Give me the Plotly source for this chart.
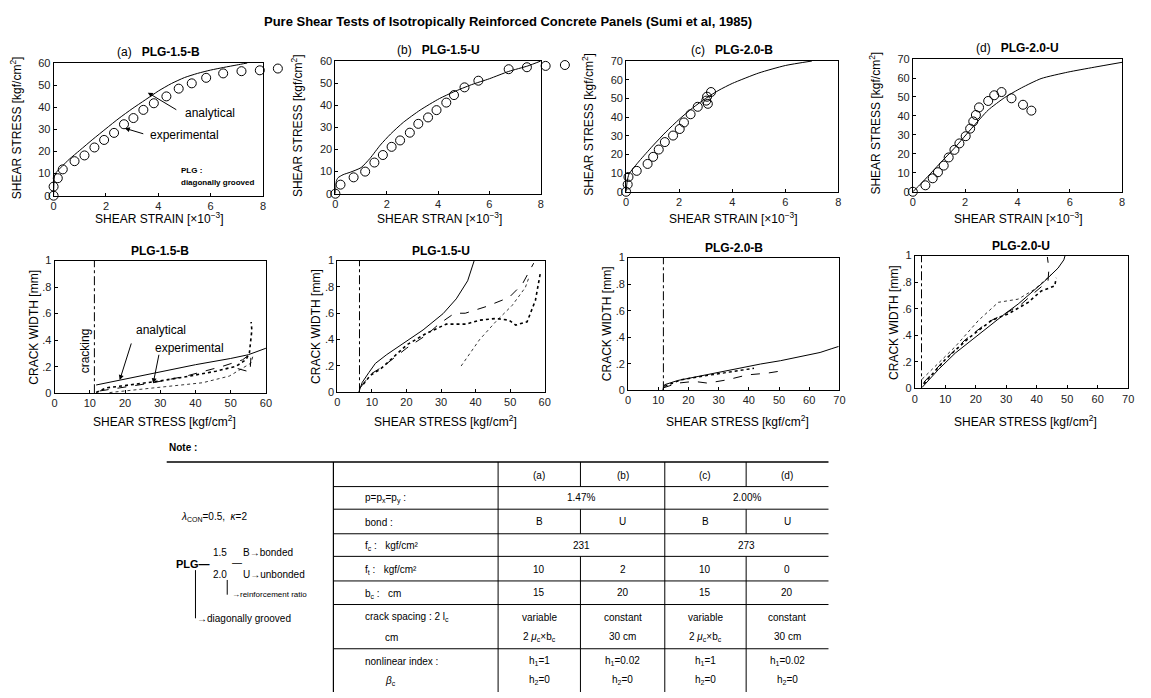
import plotly.graph_objects as go

W, H = 1151, 698
FONT = "Liberation Sans"

# ---------------- DATA ----------------
# Top row: shear stress (kgf/cm2) vs shear strain (x10^-3)
a_exp_x = [0, 0.0, 0.16, 0.35, 0.80, 1.18, 1.56, 1.93, 2.31, 2.69, 3.05, 3.43, 3.83, 4.31, 4.78, 5.28, 5.83, 6.48, 7.18, 7.88, 8.57]
a_exp_y = [0, 4.1, 7.9, 11.9, 15.6, 18.2, 21.8, 25.2, 28.4, 32.3, 35.1, 38.8, 41.8, 44.9, 48.4, 50.8, 53.3, 55.3, 56.3, 56.7, 57.5]
a_ana_x = [0, 0.03, 0.1, 0.3, 0.6, 1.0, 1.5, 2.0, 2.5, 3.0, 3.5, 4.0, 4.5, 5.0, 5.5, 6.0, 6.5, 7.0, 7.4]
a_ana_y = [0, 8.5, 10.5, 13.0, 16.5, 20.5, 25.5, 30.3, 35.0, 39.3, 43.3, 47.3, 50.7, 53.4, 55.3, 56.8, 58.0, 59.1, 60.0]

b_exp_x = [0, 0.2, 0.71, 1.16, 1.52, 1.85, 2.19, 2.52, 2.90, 3.23, 3.61, 3.94, 4.32, 4.62, 5.03, 5.57, 6.75, 7.46, 8.19, 8.94]
b_exp_y = [0, 4.1, 7.4, 10.0, 14.1, 17.5, 21.2, 24.1, 27.6, 31.6, 34.5, 37.8, 41.2, 44.6, 48.1, 51.1, 56.3, 57.2, 57.8, 58.2]
b_ana_x = [0, 0.03, 0.1, 0.3, 0.6, 1.0, 1.35, 1.75, 2.15, 2.65, 3.3, 4.05, 4.6, 5.3, 6.0, 6.75, 7.5, 8.0]
b_ana_y = [0, 5.5, 7.2, 8.6, 9.8, 11.8, 16.0, 22.0, 27.0, 32.3, 37.8, 43.0, 46.0, 49.3, 52.0, 55.3, 57.8, 60.0]

c_exp_x = [0, 0.06, 0.09, 0.40, 0.81, 1.02, 1.23, 1.46, 1.77, 2.02, 2.18, 2.43, 2.70, 3.02, 3.05, 3.08, 3.20]
c_exp_y = [0, 3.9, 7.9, 11.2, 14.9, 18.7, 22.6, 26.6, 30.1, 33.6, 37.1, 41.5, 45.5, 48.8, 50.9, 47.1, 53.4]
c_ana_x = [0, 0.04, 0.11, 0.5, 1.0, 1.5, 2.0, 2.5, 3.0, 3.5, 4.0, 5.0, 6.0, 7.0]
c_ana_y = [0, 5.5, 9.5, 16.5, 24.5, 32.0, 38.8, 44.8, 50.0, 54.4, 58.0, 63.6, 67.6, 70.0]

d_exp_x = [0, 0.48, 0.76, 0.96, 1.18, 1.37, 1.59, 1.78, 2.02, 2.19, 2.31, 2.41, 2.53, 2.88, 3.11, 3.39, 3.77, 4.21, 4.53]
d_exp_y = [0, 3.4, 7.1, 10.3, 13.8, 18.1, 22.1, 25.5, 29.3, 33.3, 37.1, 40.5, 44.5, 47.9, 50.9, 52.6, 49.3, 45.9, 42.8]
d_ana_x = [0, 0.35, 0.99, 1.62, 2.25, 2.88, 3.51, 4.15, 4.9, 5.92, 6.93, 8.0]
d_ana_y = [0, 4.8, 14.3, 23.5, 33.5, 43.1, 49.7, 54.8, 59.7, 63.1, 65.7, 68.3]

# Bottom row: crack width (mm) vs shear stress (kgf/cm2)
ba_crack = 11.3
ba_ana_x = [11.8, 20, 30, 40, 50, 55, 60]
ba_ana_y = [0.062, 0.107, 0.163, 0.215, 0.262, 0.29, 0.339]
ba_e1_x = [11.8, 14.6, 18.9, 25, 29.8, 38.3, 45.8, 51.5, 54.3, 55.3, 55.8, 56.0, 55.8]
ba_e1_y = [0.005, 0.04, 0.054, 0.074, 0.092, 0.129, 0.166, 0.203, 0.252, 0.302, 0.40, 0.475, 0.537]
ba_e2_x = [12.8, 20, 27.9, 37.3, 47.7, 53.4, 55.8, 55.5, 50.0]
ba_e2_y = [0.017, 0.045, 0.079, 0.129, 0.203, 0.252, 0.302, 0.16, 0.2]
ba_e3_x = [15.6, 27.9, 42, 49.6, 55.8, 56.4]
ba_e3_y = [0.005, 0.042, 0.079, 0.129, 0.228, 0.29]

bb_crack = 6.4
bb_ana_x = [6.2, 7.2, 9.1, 11, 14.3, 20.1, 24.8, 30.6, 34.4, 37.7, 39.6]
bb_ana_y = [0, 0.075, 0.149, 0.219, 0.286, 0.386, 0.473, 0.597, 0.709, 0.846, 1.0]
bb_e1_x = [6.7, 9.6, 13.4, 20.1, 25.8, 29.5, 33.9, 37.0, 43, 49.7, 53.5, 56.8]
bb_e1_y = [0.037, 0.137, 0.199, 0.336, 0.435, 0.52, 0.6, 0.6, 0.65, 0.72, 0.82, 0.98]
bb_e2_x = [7.5, 9.6, 12.4, 20.1, 25.8, 31.5, 37.2, 41.1, 45.8, 49.7, 51.6, 54.9, 57.3, 58.7]
bb_e2_y = [0.06, 0.13, 0.174, 0.36, 0.448, 0.517, 0.517, 0.547, 0.56, 0.547, 0.51, 0.535, 0.697, 0.9]
bb_e3_x = [35.8, 41.1, 45.8, 50.6, 54.4, 55.4]
bb_e3_y = [0.199, 0.398, 0.535, 0.66, 0.796, 0.87]

bc_crack = 11.7
bc_ana_x = [11.5, 12.1, 16.5, 24.1, 30.7, 37.3, 43.9, 50.5, 57.1, 63.6, 67.5, 69.7]
bc_ana_y = [0.0, 0.042, 0.074, 0.109, 0.141, 0.173, 0.198, 0.223, 0.252, 0.285, 0.314, 0.33]
bc_e1_x = [11.5, 16.5, 21.9, 26.3, 32.9, 39.5, 46.1, 51.6]
bc_e1_y = [0.017, 0.054, 0.067, 0.054, 0.079, 0.116, 0.129, 0.149]
bc_e2_x = [12.1, 17.6, 24.1, 30.7, 37.3, 41.7]
bc_e2_y = [0.03, 0.079, 0.104, 0.129, 0.153, 0.166]

bd_crack = 2.2
bd_ana_x = [2.4, 7.8, 13.3, 18.7, 24.1, 29.6, 33.9, 38.3, 42.6, 47.0, 48.9, 49.3]
bd_ana_y = [0.007, 0.143, 0.266, 0.365, 0.463, 0.562, 0.635, 0.722, 0.808, 0.906, 0.968, 1.0]
bd_e1_x = [2.4, 6.7, 13.3, 20.9, 27.4, 33.9, 39.3, 44.8]
bd_e1_y = [0.069, 0.167, 0.315, 0.512, 0.648, 0.672, 0.746, 0.857]
bd_e2_x = [2.9, 8.9, 16.5, 24.1, 29.6, 35, 39.3, 43.7, 44.0, 43.5]
bd_e2_y = [0.044, 0.192, 0.365, 0.5, 0.562, 0.635, 0.722, 0.808, 0.9, 0.99]
bd_e3_x = [2.9, 10, 17.6, 25.2, 30.7, 37.2, 41.5, 45.9, 46.4]
bd_e3_y = [0.032, 0.217, 0.377, 0.512, 0.562, 0.648, 0.734, 0.771, 0.833]

top_titles = ["(a)", "(b)", "(c)", "(d)"]
specimens = ["PLG-1.5-B", "PLG-1.5-U", "PLG-2.0-B", "PLG-2.0-U"]
top_xtitles = ["SHEAR STRAIN [×10<sup>−3</sup>]", "SHEAR STRAN [×10<sup>−3</sup>]",
               "SHEAR STRAIN [×10<sup>−3</sup>]", "SHEAR STRAIN [×10<sup>−3</sup>]"]
top_xmax = 8
top_ymax = [60, 60, 70, 70]
bot_xmax = [60, 60, 70, 70]
crack_ticks = [0, 0.2, 0.4, 0.6, 0.8, 1]
crack_ticktext = ["0", ".2", ".4", ".6", ".8", "1"]

# Table
tbl_cols = ["(a)", "(b)", "(c)", "(d)"]
tbl_labels = ["p=p<sub>x</sub>=p<sub>y</sub> :", "bond :", "f<sub>c</sub> :   kgf/cm²",
              "f<sub>t</sub> :   kgf/cm²", "b<sub>c</sub> :   cm"]
ratio_vals = ["1.47%", "2.00%"]
bond_vals = ["B", "U", "B", "U"]
fc_vals = ["231", "273"]
ft_vals = ["10", "2", "10", "0"]
bc_vals = ["15", "20", "15", "20"]
spacing_vals = [("variable", "2 <i>μ</i><sub>c</sub>×b<sub>c</sub>"), ("constant", "30 cm"),
                ("variable", "2 <i>μ</i><sub>c</sub>×b<sub>c</sub>"), ("constant", "30 cm")]
index_vals = [("h<sub>1</sub>=1", "h<sub>2</sub>=0"), ("h<sub>1</sub>=0.02", "h<sub>2</sub>=0"),
              ("h<sub>1</sub>=1", "h<sub>2</sub>=0"), ("h<sub>1</sub>=0.02", "h<sub>2</sub>=0")]

# ---------------- LAYOUT GEOMETRY (px) ----------------
top_box = [(51, 262, 58, 193), (335, 542, 56, 191), (628, 842, 56, 189), (917, 1128, 54, 189)]
bot_box = [(52, 265, 259, 394), (337, 546, 259, 393), (630, 843, 256, 391), (919, 1134, 254, 389)]

def px(x):
    return x / W

def py(y):
    return 1 - y / H

fig = go.Figure()
layout = dict(width=W, height=H, margin=dict(l=0, r=0, t=0, b=0),
              paper_bgcolor="white", plot_bgcolor="rgba(0,0,0,0)", showlegend=False,
              font=dict(family=FONT, color="black"))
annotations = []
shapes = []

def axis_common(size):
    return dict(showline=True, mirror=True, linecolor="black", linewidth=1,
                ticks="inside", ticklen=3, tickcolor="black", showgrid=False,
                zeroline=False, fixedrange=True, tickfont=dict(family=FONT, size=size, color="#222"))

def ann(x, y, text, size=12, xanchor="center", yanchor="middle", textangle=0, **kw):
    annotations.append(dict(x=px(x), y=py(y), xref="paper", yref="paper", text=text,
                            showarrow=False, xanchor=xanchor, yanchor=yanchor, textangle=textangle,
                            font=dict(family=FONT, size=size, color="black"), **kw))

top_data = [(a_exp_x, a_exp_y, a_ana_x, a_ana_y), (b_exp_x, b_exp_y, b_ana_x, b_ana_y),
            (c_exp_x, c_exp_y, c_ana_x, c_ana_y), (d_exp_x, d_exp_y, d_ana_x, d_ana_y)]

extra_axis = 9
for i, (l, r, t, b) in enumerate(top_box):
    n = i + 1
    xa, ya = f"x{n}", f"y{n}"
    ex, ey, axx, axy = top_data[i]
    fig.add_trace(go.Scatter(x=axx, y=axy, mode="lines", xaxis=xa, yaxis=ya,
                             line=dict(color="black", width=1, shape="spline", smoothing=0.6)))
    xk = "xaxis" if n == 1 else f"xaxis{n}"
    yk = "yaxis" if n == 1 else f"yaxis{n}"
    layout[xk] = dict(domain=[px(l), px(r)], range=[0, top_xmax], tickvals=[0, 2, 4, 6, 8],
                      anchor=ya, **axis_common(11))
    layout[yk] = dict(domain=[py(b), py(t)], range=[0, top_ymax[i]],
                      tickvals=list(range(0, top_ymax[i] + 1, 10)), anchor=xa, **axis_common(11))
    # experimental circles: if they run past the frame, use an invisible wider axis with same scale
    xmax_pts = max(ex)
    if xmax_pts > top_xmax:
        ext = xmax_pts + 0.4
        xe = f"x{extra_axis}"
        layout[f"xaxis{extra_axis}"] = dict(domain=[px(l), px(l + (r - l) * ext / top_xmax)],
                                           range=[0, ext], visible=False, anchor=ya, fixedrange=True)
        fig.add_trace(go.Scatter(x=ex, y=ey, mode="markers", xaxis=xe, yaxis=ya, cliponaxis=False,
                                 marker=dict(symbol="circle-open", size=9, color="black", line=dict(width=1))))
        extra_axis += 1
    else:
        fig.add_trace(go.Scatter(x=ex, y=ey, mode="markers", xaxis=xa, yaxis=ya, cliponaxis=False,
                                 marker=dict(symbol="circle-open", size=9, color="black", line=dict(width=1))))
    cx = (l + r) / 2
    ann(cx, t - 11, f"{top_titles[i]}   <b>{specimens[i]}</b>", size=12)
    ann(cx + 1, 216, top_xtitles[i], size=12)
    ann(l - 38, (t + b) / 2 - 2, "SHEAR STRESS [kgf/cm<sup>2</sup>]", size=12, textangle=-90)

bot_data = [
    (ba_crack, ba_ana_x, ba_ana_y, [(ba_e1_x, ba_e1_y, "dot", 1.6), (ba_e2_x, ba_e2_y, "dash", 1), (ba_e3_x, ba_e3_y, "dot", 0.8)]),
    (bb_crack, bb_ana_x, bb_ana_y, [(bb_e1_x, bb_e1_y, "dash", 1), (bb_e2_x, bb_e2_y, "dot", 1.6), (bb_e3_x, bb_e3_y, "dot", 0.8)]),
    (bc_crack, bc_ana_x, bc_ana_y, [(bc_e1_x, bc_e1_y, "dash", 1), (bc_e2_x, bc_e2_y, "dot", 1.4)]),
    (bd_crack, bd_ana_x, bd_ana_y, [(bd_e1_x, bd_e1_y, "dot", 0.8), (bd_e2_x, bd_e2_y, "dash", 1), (bd_e3_x, bd_e3_y, "dot", 1.6)]),
]

for i, (l, r, t, b) in enumerate(bot_box):
    n = i + 5
    xa, ya = f"x{n}", f"y{n}"
    crack, anx, any_, exps = bot_data[i]
    fig.add_trace(go.Scatter(x=[crack, crack], y=[0, 1], mode="lines", xaxis=xa, yaxis=ya,
                             line=dict(color="black", width=1, dash="dashdot")))
    fig.add_trace(go.Scatter(x=anx, y=any_, mode="lines", xaxis=xa, yaxis=ya,
                             line=dict(color="black", width=1)))
    for ex, ey, dash, wd in exps:
        fig.add_trace(go.Scatter(x=ex, y=ey, mode="lines", xaxis=xa, yaxis=ya,
                                 line=dict(color="black", width=wd, dash=dash)))
    layout[f"xaxis{n}"] = dict(domain=[px(l), px(r)], range=[0, bot_xmax[i]],
                               tickvals=list(range(0, bot_xmax[i] + 1, 10)), anchor=ya, **axis_common(11))
    layout[f"yaxis{n}"] = dict(domain=[py(b), py(t)], range=[0, 1], tickvals=crack_ticks,
                               ticktext=crack_ticktext, anchor=xa, **axis_common(11))
    cx = (l + r) / 2
    ann(cx, t - 10, f"<b>{specimens[i]}</b>", size=12)
    ann(cx + 4, 422, "SHEAR STRESS [kgf/cm<sup>2</sup>]", size=12)
    ann(l - 21, (t + b) / 2, "CRACK WIDTH [mm]", size=12, textangle=-90)

# in-plot labels
ann(209, 109, "analytical", size=12)
ann(183, 131, "experimental", size=12)
ann(177, 167, "<b>PLG :</b>", size=8, xanchor="left")
ann(177, 180, "<b>diagonally grooved</b>", size=8, xanchor="left")
annotations.append(dict(x=3.6, y=46.6, xref="x", yref="y", ax=30, ay=18, text="", showarrow=True,
                        arrowhead=2, arrowsize=1, arrowwidth=1, arrowcolor="black"))
annotations.append(dict(x=2.72, y=30.5, xref="x", yref="y", ax=20, ay=6, text="", showarrow=True,
                        arrowhead=2, arrowsize=1, arrowwidth=1, arrowcolor="black"))

ann(83, 351, "cracking", size=12, textangle=-90)
ann(159, 330, "analytical", size=12)
ann(188, 348, "experimental", size=12)
annotations.append(dict(x=18.5, y=0.1, xref="x5", yref="y5", ax=12, ay=-38, text="", showarrow=True,
                        arrowhead=2, arrowsize=1, arrowwidth=1, arrowcolor="black"))
annotations.append(dict(x=28.0, y=0.075, xref="x5", yref="y5", ax=6, ay=-30, text="", showarrow=True,
                        arrowhead=2, arrowsize=1, arrowwidth=1, arrowcolor="black"))

# main title
ann(509, 16, "<b>Pure Shear Tests of Isotropically Reinforced Concrete Panels (Sumi et al, 1985)</b>", size=13)

# ---------------- NOTE + TABLE ----------------
ann(165, 449, "<b>Note :</b>", size=10, xanchor="left")

def hline(x0, x1, y, w=1):
    shapes.append(dict(type="line", xref="paper", yref="paper", x0=px(x0), x1=px(x1), y0=py(y), y1=py(y),
                       line=dict(color="black", width=w)))

def vline(x, y0, y1, w=1):
    shapes.append(dict(type="line", xref="paper", yref="paper", x0=px(x), x1=px(x), y0=py(y0), y1=py(y1),
                       line=dict(color="black", width=w)))

row_y = [464, 489, 512, 537, 560, 585, 609, 654, 698]
col_x = [333, 499, 582, 667, 749, 832]
hline(165, 832, row_y[0], 1.5)
for y in row_y[1:-1]:
    hline(333, 832, y)
vline(333, 464, 698, 1.2)
vline(499, 464, 698)
vline(667, 464, 698)
for k in range(len(row_y) - 1):
    if k in (1, 3):
        continue
    vline(582, row_y[k], row_y[k + 1])
    vline(749, row_y[k], row_y[k + 1])

def cell_center(k, c):
    return (col_x[c] + col_x[c + 1]) / 2, (row_y[k] + row_y[k + 1]) / 2

for c, lab in enumerate(tbl_cols):
    x, y = cell_center(0, c + 1)
    ann(x, y + 1, lab, size=10)

for k, lab in enumerate(tbl_labels):
    ann(363, (row_y[k + 1] + row_y[k + 2]) / 2 + 1, lab, size=10, xanchor="left")
ann(363, 622, "crack spacing : 2 l<sub>c</sub>", size=10, xanchor="left")
ann(383, 643, "cm", size=10, xanchor="left")
ann(363, 667, "nonlinear index :", size=10, xanchor="left")
ann(383, 687, "<i>β</i><sub>c</sub>", size=10, xanchor="left")

for j, v in enumerate(ratio_vals):
    ann((col_x[1 + 2 * j] + col_x[3 + 2 * j]) / 2, 500, v, size=10)
    ann((col_x[1 + 2 * j] + col_x[3 + 2 * j]) / 2, 549, fc_vals[j], size=10)
for c in range(4):
    x = (col_x[c + 1] + col_x[c + 2]) / 2
    ann(x, 525, bond_vals[c], size=10)
    ann(x, 573, ft_vals[c], size=10)
    ann(x, 597, bc_vals[c], size=10)
    ann(x, 622, spacing_vals[c][0], size=10)
    ann(x, 642, spacing_vals[c][1], size=10)
    ann(x, 666, index_vals[c][0], size=10)
    ann(x, 686, index_vals[c][1], size=10)

# left notes
ann(177, 520, "<i>λ</i><sub>CON</sub>=0.5,  <i>κ</i>=2", size=10, xanchor="left")
ann(172, 568, "<b>PLG—</b>", size=11, xanchor="left")
ann(219, 556, "1.5", size=10)
ann(219, 578, "2.0", size=10)
ann(236, 566, "—", size=10)
ann(240, 556, "B→bonded", size=10, xanchor="left")
ann(240, 578, "U→unbonded", size=10, xanchor="left")
ann(229, 599, "→reinforcement ratio", size=8, xanchor="left")
ann(194, 623, "→diagonally grooved", size=10, xanchor="left")
vline(226, 584, 599)
vline(194, 574, 623)

layout["annotations"] = annotations
layout["shapes"] = shapes
fig.update_layout(**layout)
fig.write_html("out.html")
